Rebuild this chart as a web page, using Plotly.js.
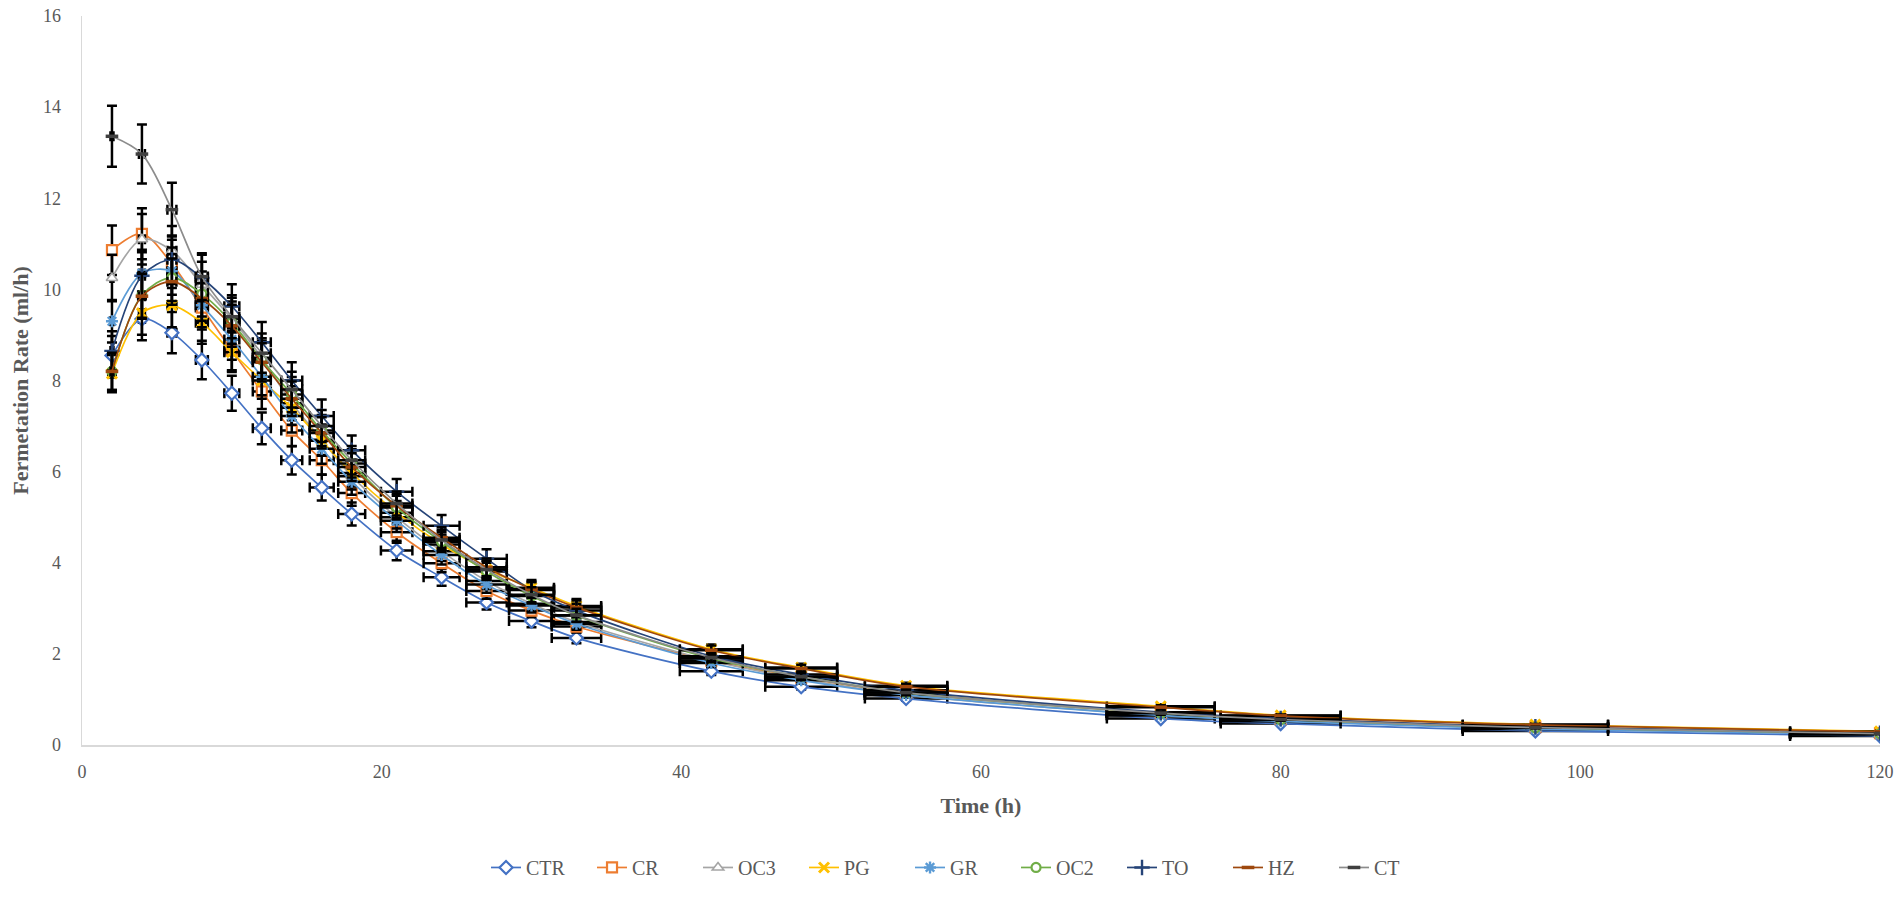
<!DOCTYPE html>
<html>
<head>
<meta charset="utf-8">
<script src="https://cdn.plot.ly/plotly-3.0.1.min.js"></script>
<style>html,body{margin:0;padding:0;background:#fff;}#chart{width:1902px;height:899px;}</style>
</head>
<body>
<div id="chart"></div>
<script>
const time = [2,4,6,8,10,12,14,16,18,21,24,27,30,33,42,48,55,72,80,97,120];

const CTR = [8.55,9.35,9.05,8.45,7.72,6.95,6.25,5.65,5.07,4.27,3.68,3.13,2.72,2.35,1.62,1.28,1.02,0.58,0.47,0.31,0.20];
const CR  = [10.86,11.22,10.56,9.60,8.66,7.76,6.90,6.25,5.53,4.67,3.99,3.38,2.95,2.60,1.85,1.48,1.15,0.70,0.57,0.39,0.26];
const OC3 = [10.25,11.10,10.85,10.10,9.35,8.50,7.50,6.70,5.90,5.00,4.25,3.60,3.10,2.70,1.85,1.45,1.10,0.66,0.53,0.36,0.24];
const PG  = [8.15,9.48,9.65,9.27,8.62,8.00,7.40,6.68,5.97,5.10,4.40,3.85,3.45,3.05,2.10,1.70,1.30,0.85,0.65,0.45,0.30];
const GR  = [9.30,10.35,10.40,9.65,8.90,8.08,7.22,6.50,5.78,4.92,4.17,3.52,3.06,2.66,1.80,1.42,1.10,0.65,0.52,0.35,0.23];
const OC2 = [8.20,9.87,10.26,9.90,9.27,8.45,7.69,6.90,6.18,5.21,4.46,3.81,3.27,2.84,1.90,1.50,1.15,0.70,0.56,0.38,0.25];
const TO  = [8.65,10.30,10.65,10.25,9.63,8.84,8.00,7.22,6.47,5.56,4.81,4.09,3.40,2.95,1.95,1.55,1.20,0.72,0.58,0.40,0.26];
const HZ  = [8.20,9.85,10.17,9.80,9.20,8.40,7.60,6.85,6.10,5.25,4.55,3.90,3.42,3.02,2.08,1.68,1.28,0.83,0.64,0.44,0.29];
const CT  = [13.36,12.97,11.75,10.28,9.40,8.60,7.80,7.00,6.25,5.30,4.50,3.85,3.30,2.85,1.92,1.50,1.15,0.70,0.56,0.38,0.25];

const seriesNames = ['CTR','CR','OC3','PG','GR','OC2','TO','HZ','CT'];
const seriesData = [CTR,CR,OC3,PG,GR,OC2,TO,HZ,CT];
const lineColors = ['#4472C4','#ED7D31','#A5A5A5','#FFC000','#5B9BD5','#70AD47','#264478','#9E480E','#8C8C8C'];
const markerStyles = [
  {symbol:'diamond', color:'#ffffff', line:{color:'#4472C4', width:2.2}, size:10},
  {symbol:'square', color:'#ffffff', line:{color:'#ED7D31', width:2.2}, size:10},
  {symbol:'triangle-up', color:'#ffffff', line:{color:'#A5A5A5', width:1.6}, size:10},
  {symbol:'x-thin-open', color:'#FFC000', line:{color:'#FFC000', width:3}, size:10},
  {symbol:'asterisk-open', color:'#5B9BD5', line:{color:'#5B9BD5', width:2.4}, size:10},
  {symbol:'circle', color:'#ffffff', line:{color:'#70AD47', width:2.2}, size:9},
  {symbol:'cross-thin-open', color:'#264478', line:{color:'#264478', width:2.4}, size:11},
  {symbol:'line-ew-open', color:'#9E480E', line:{color:'#9E480E', width:3.5}, size:9},
  {symbol:'line-ew-open', color:'#404040', line:{color:'#404040', width:3.5}, size:9}
];

const traces = seriesNames.map((name,i)=>({
  type:'scatter', mode:'lines+markers', name:name,
  x: time, y: seriesData[i],
  line:{color:lineColors[i], width:1.7, shape:'spline', smoothing:0.9},
  marker: markerStyles[i],
  error_y:{type:'percent', value:5, color:'#000000', thickness:2.5, width:5},
  error_x:{type:'percent', value:5, color:'#000000', thickness:2.5, width:5}
}));

const serif = 'Liberation Serif, Times New Roman, serif';
const tickFont = {family:serif, size:18, color:'#595959'};
const layout = {
  width:1902, height:899,
  margin:{l:82, r:22, t:16, b:139},
  paper_bgcolor:'#ffffff', plot_bgcolor:'#ffffff',
  showlegend:true,
  xaxis:{
    range:[0,120], dtick:20, tick0:0, showgrid:false, zeroline:false,
    showline:true, linecolor:'#D9D9D9', linewidth:1.5,
    ticks:'outside', ticklen:10, tickcolor:'rgba(0,0,0,0)',
    tickfont:tickFont,
    title:{text:'<b>Time (h)</b>', font:{family:serif, size:22, color:'#595959'}, standoff:16}
  },
  yaxis:{
    range:[0,16], dtick:2, tick0:0, showgrid:false, zeroline:false,
    showline:true, linecolor:'#D9D9D9', linewidth:1.5,
    ticks:'outside', ticklen:16, tickcolor:'rgba(0,0,0,0)',
    tickfont:tickFont,
    title:{text:'<b>Fermetation Rate (ml/h)</b>', font:{family:serif, size:22, color:'#595959'}, standoff:8}
  },
  legend:{
    orientation:'h', x:0.49, xanchor:'center', y:-0.168, yanchor:'middle',
    font:{family:serif, size:20, color:'#595959'},
    itemwidth:30, entrywidth:61, entrywidthmode:'pixels', tracegroupgap:0
  }
};

Plotly.newPlot('chart', traces, layout, {displayModeBar:false, staticPlot:true});
</script>
</body>
</html>
